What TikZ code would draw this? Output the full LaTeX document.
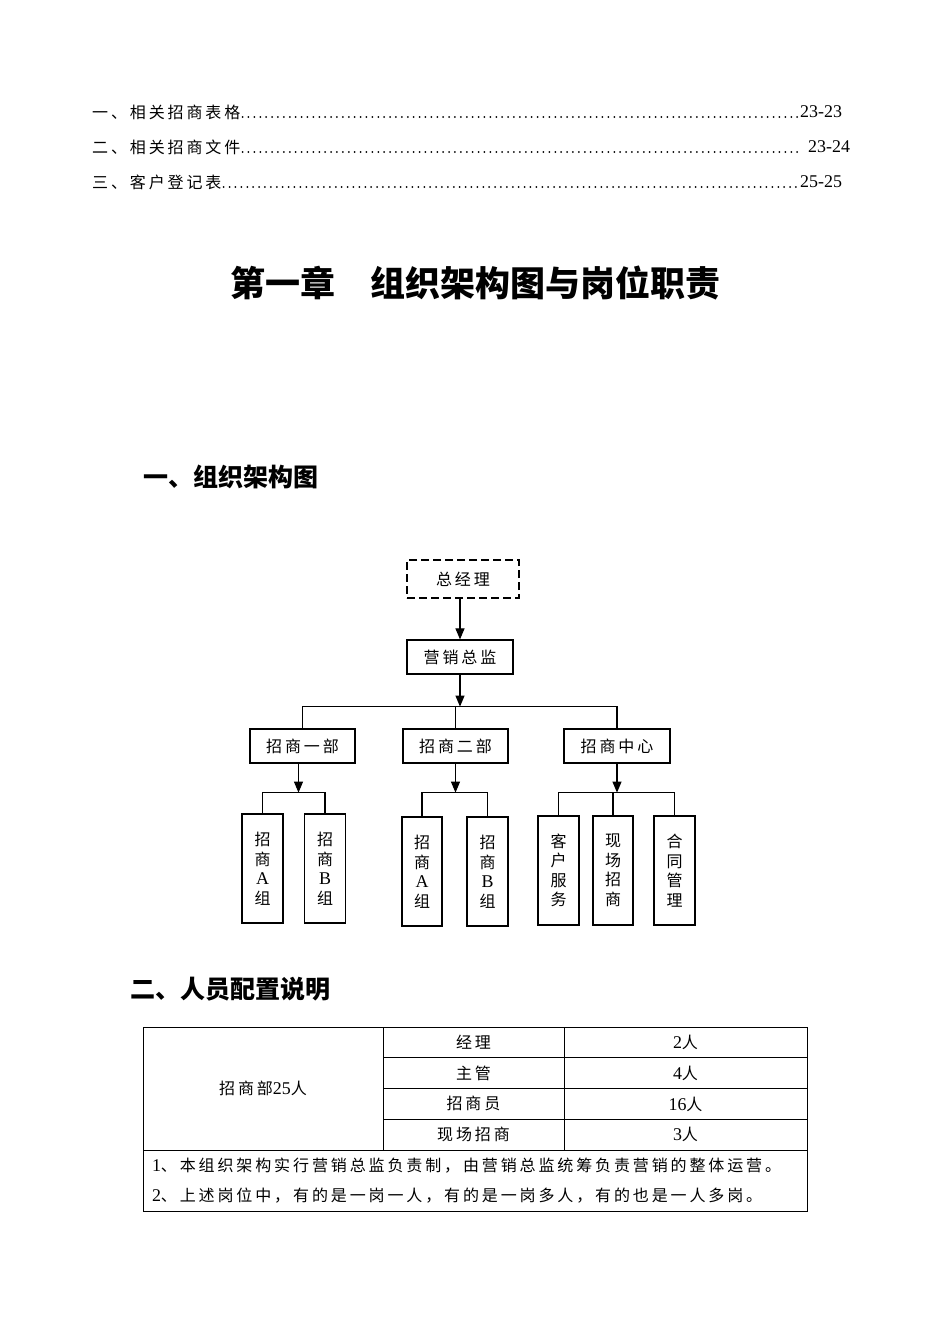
\documentclass[tikz,border=0pt]{standalone}
\usepackage{fontspec}
\setmainfont{Noto Sans CJK SC}
\newfontfamily\bodyfont{Noto Sans CJK SC}[LetterSpace=18]
\newfontfamily\latin{Liberation Serif}[Scale=1.12]
\usetikzlibrary{arrows.meta,positioning}

\begin{document}
\begin{tikzpicture}[
  x=1pt,y=-1pt,
  >={Triangle[length=11pt,width=9pt]},
  body/.style={font=\fontsize{16}{19.5}\bodyfont,inner sep=0pt},
  tocline/.style={body,anchor=west},
  leader/.style={line width=2pt,line cap=round,dash pattern=on 0pt off 5.9pt},
  heading/.style={font=\fontsize{25}{28}\bfseries\selectfont,anchor=west,inner sep=0pt},
  unit/.style={draw,line width=1.2pt,body,minimum height=34pt},
  post/.style={draw,line width=1.2pt,body,align=center,minimum height=109pt,minimum width=41pt},
  link/.style={line width=1.1pt},
  arr/.style={->,line width=1.1pt},
  cell/.style={draw,line width=0.9pt,body,minimum height=30.75pt}
]
\useasboundingbox (0,0) rectangle (950,1344);

\node[tocline] (toc1) at (92,112) {一、相关招商表格};
\node[tocline] (pg1) at (800,112) {\latin 23-23};
\node[tocline] (toc2) at (92,147) {二、相关招商文件};
\node[tocline] (pg2) at (808,147) {\latin 23-24};
\node[tocline] (toc3) at (92,182) {三、客户登记表};
\node[tocline] (pg3) at (800,182) {\latin 25-25};
\draw[leader] ([xshift=2pt,yshift=-5pt]toc1.east) -- ([xshift=-2pt,yshift=-5pt]toc1.east -| pg1.west);
\draw[leader] ([xshift=2pt,yshift=-5pt]toc2.east) -- ([xshift=-10pt,yshift=-5pt]toc2.east -| pg2.west);
\draw[leader] ([xshift=2pt,yshift=-5pt]toc3.east) -- ([xshift=-2pt,yshift=-5pt]toc3.east -| pg3.west);

\node[font=\fontsize{35}{40}\bfseries\selectfont,inner sep=0pt] (title) at (475,283)
  {第一章\hspace{1em}组织架构图与岗位职责};

\node[heading] (sec1) at (143,477) {一、组织架构图};
\node[heading] (sec2) at (130,989) {二、人员配置说明};

\node[unit,dash pattern=on 8pt off 4pt,minimum width=112pt,minimum height=38pt] (gm) at (463,579) {总经理};
\node[unit,minimum width=106pt] (cmo) at (460,657) {营销总监};
\node[unit,minimum width=105pt] (dept1) at (302.5,746) {招商一部};
\node[unit,minimum width=105pt] (dept2) at (455.5,746) {招商二部};
\node[unit,minimum width=106pt] (hub) at (617,746) {招商中心};

\node[post] (a1) at (262.5,868.5) {招\\商\\{\latin A}\\组};
\node[post] (b1) at (325,868.5) {招\\商\\{\latin B}\\组};
\node[post,minimum width=40pt] (a2) at (422,871.5) {招\\商\\{\latin A}\\组};
\node[post] (b2) at (487.5,871.5) {招\\商\\{\latin B}\\组};
\node[post] (svc) at (558.5,870.5) {客\\户\\服\\务};
\node[post,minimum width=40pt] (site) at (613,870.5) {现\\场\\招\\商};
\node[post] (ctr) at (674.5,870.5) {合\\同\\管\\理};

\draw[arr] (cmo.north |- gm.south) -- (cmo.north);
\draw[arr] (cmo.south) -- ++(0,32) coordinate (bus0);
\draw[link] (dept1.north) |- (bus0) -| (hub.north);
\draw[link] (dept2.north |- bus0) -- (dept2.north);

\draw[arr] ([xshift=-4pt]dept1.south) -- ++(0,29) coordinate (bus1);
\draw[link] (a1.north) |- (bus1) -| (b1.north);
\draw[arr] (dept2.south) -- ++(0,29) coordinate (bus2);
\draw[link] (a2.north) |- (bus2) -| (b2.north);
\draw[arr] (hub.south) -- ++(0,29) coordinate (bus3);
\draw[link] (svc.north) |- (bus3) -| (ctr.north);
\draw[link] (site.north |- bus3) -- (site.north);

\node[cell,minimum width=240pt,minimum height=123pt] (staff) at (263,1088.5) {招商部{\latin 25}人};
\node[cell,minimum width=181pt] (r1) at (473.5,1042.4) {经理};
\node[cell,minimum width=181pt] (r2) at (473.5,1073.1) {主管};
\node[cell,minimum width=181pt] (r3) at (473.5,1103.9) {招商员};
\node[cell,minimum width=181pt] (r4) at (473.5,1134.6) {现场招商};
\node[cell,minimum width=243pt] (n1) at (685.5,1042.4) {{\latin 2}人};
\node[cell,minimum width=243pt] (n2) at (685.5,1073.1) {{\latin 4}人};
\node[cell,minimum width=243pt] (n3) at (685.5,1103.9) {{\latin 16}人};
\node[cell,minimum width=243pt] (n4) at (685.5,1134.6) {{\latin 3}人};
\node[cell,minimum width=664pt,minimum height=61pt,align=left,text width=646pt,
  font=\fontsize{16}{30}\bodyfont] (notes) at (475,1180.5)
  {{\latin 1}、本组织架构实行营销总监负责制，由营销总监统筹负责营销的整体运营。\\
   {\latin 2}、上述岗位中，有的是一岗一人，有的是一岗多人，有的也是一人多岗。};
\end{tikzpicture}
\end{document}
